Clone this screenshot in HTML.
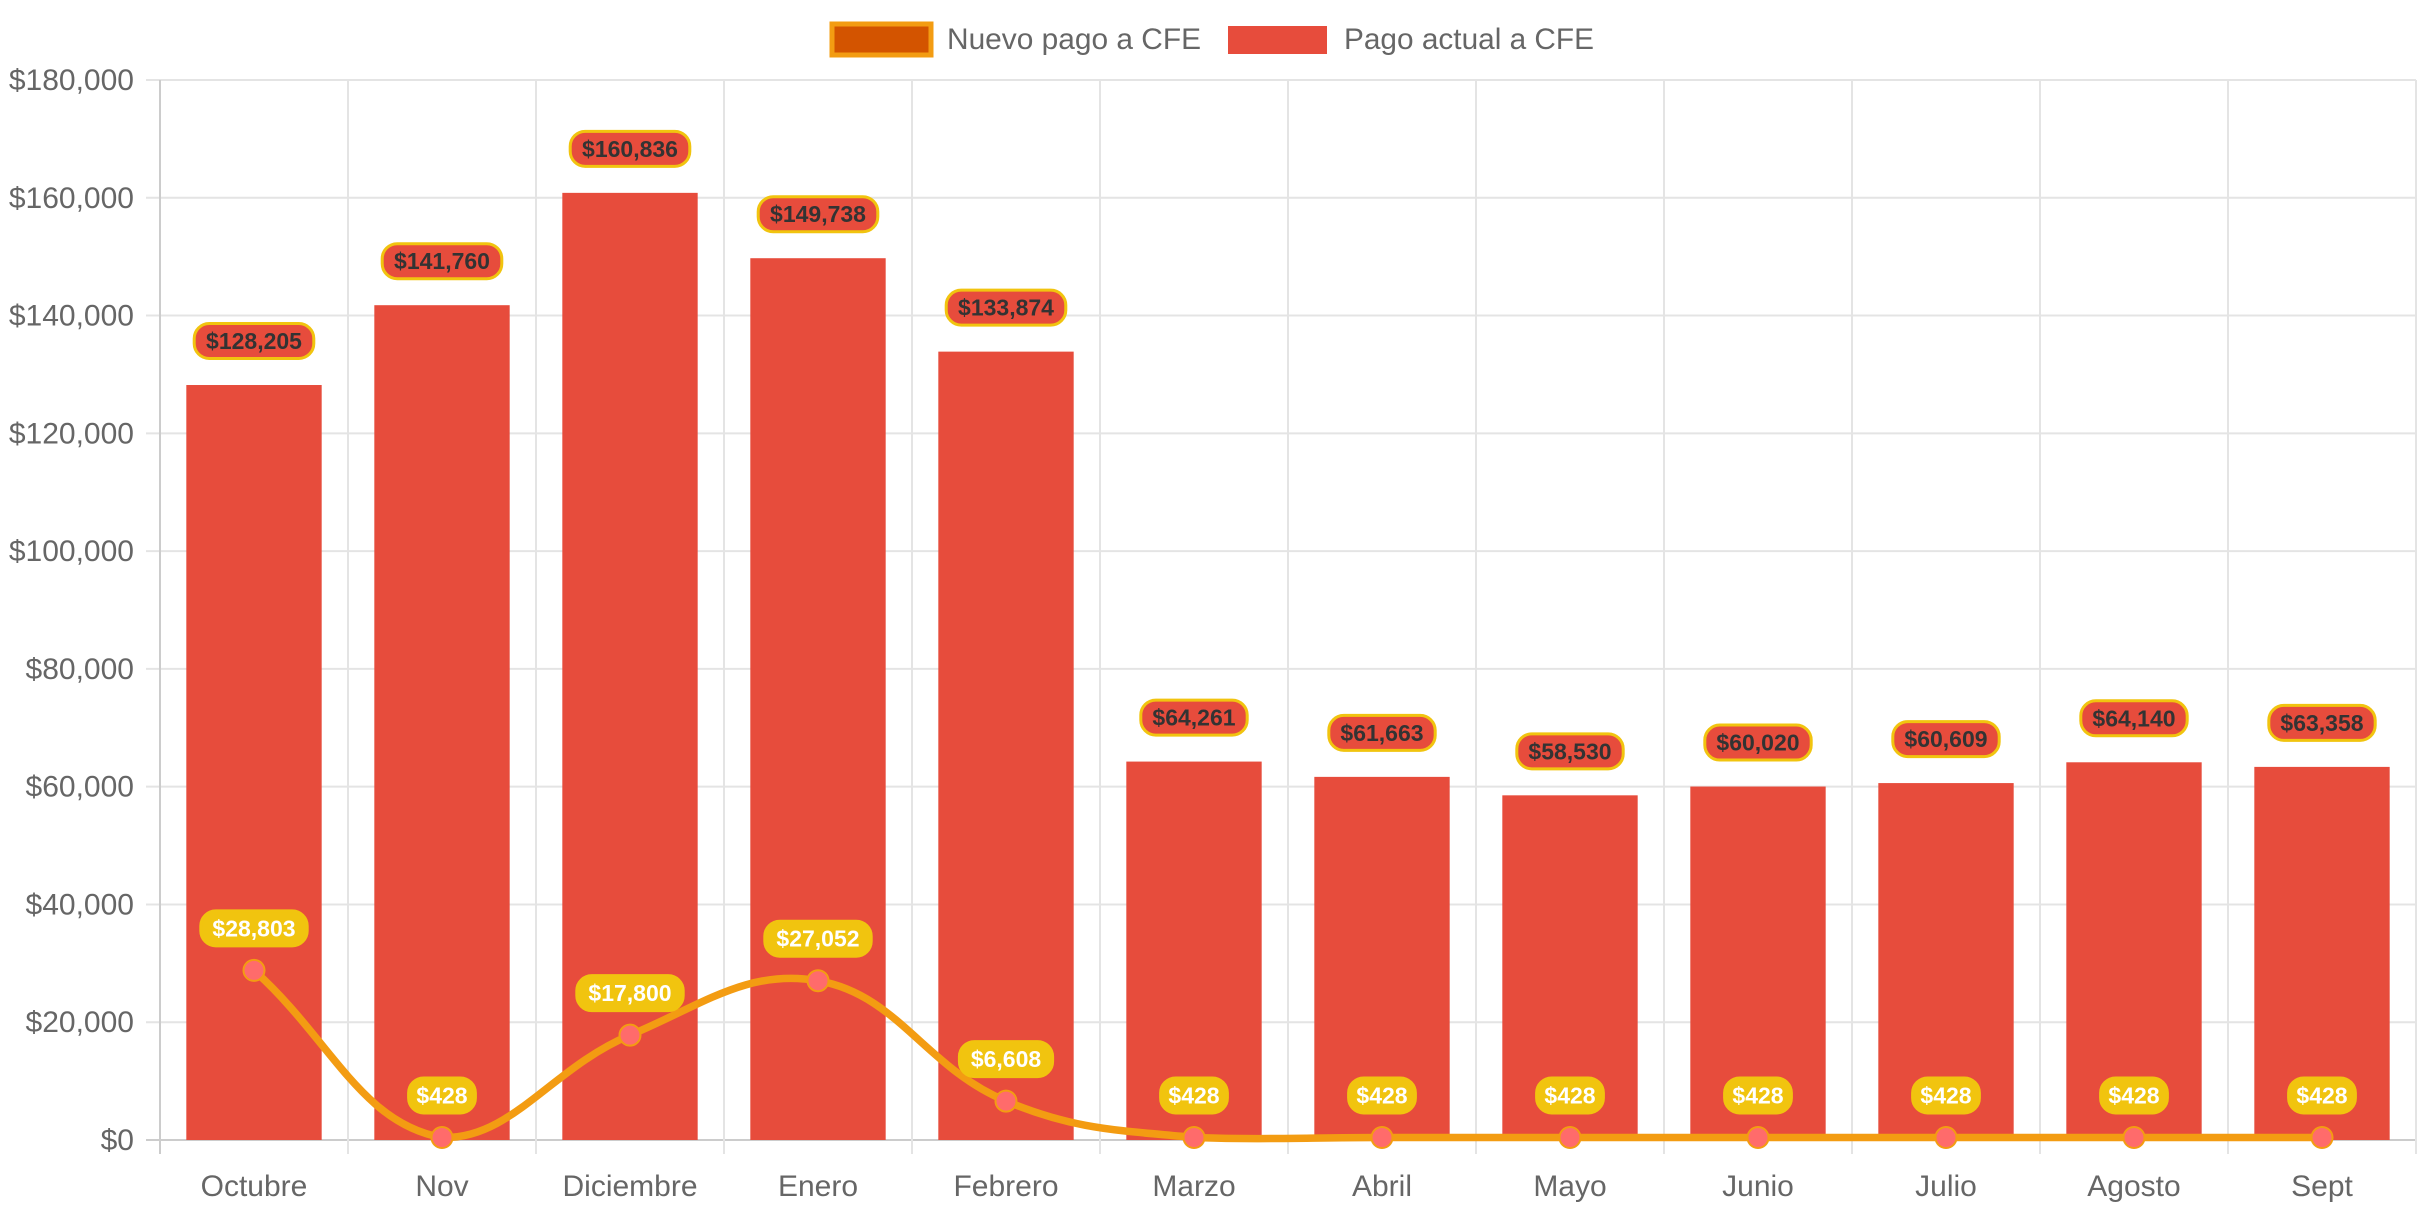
<!DOCTYPE html>
<html><head><meta charset="utf-8"><style>
body{margin:0;background:#fff;}
svg{display:block;font-family:"Liberation Sans",sans-serif;}
</style></head><body>
<svg id="chart" width="2427" height="1212" viewBox="0 0 2427 1212" xmlns="http://www.w3.org/2000/svg">
<g>
<rect x="832" y="24" width="99" height="31" fill="#d35400" stroke="#f39c12" stroke-width="5"/>
<text x="947" y="49" font-size="30" fill="#666" textLength="254" lengthAdjust="spacingAndGlyphs">Nuevo pago a CFE</text>
<rect x="1228" y="26" width="99" height="28" fill="#e74c3c"/>
<text x="1344" y="49" font-size="30" fill="#666" textLength="250" lengthAdjust="spacingAndGlyphs">Pago actual a CFE</text>
</g>
<g id="grid"></g><g id="bars"></g><g id="line"></g><g id="labels"></g>
</svg>
<script>
const categories=["Octubre","Nov","Diciembre","Enero","Febrero","Marzo","Abril","Mayo","Junio","Julio","Agosto","Sept"];
const actualValues=[128205,141760,160836,149738,133874,64261,61663,58530,60020,60609,64140,63358];
const nuevoValues=[28803,428,17800,27052,6608,428,428,428,428,428,428,428];
const yTicks=[0,20000,40000,60000,80000,100000,120000,140000,160000,180000];
const NS="http://www.w3.org/2000/svg";
const L=160,R=2416,T=80,B=1140,yMax=180000;
const cw=(R-L)/categories.length;
const xC=i=>L+cw*(i+0.5);
const yS=v=>B-(v/yMax)*(B-T);
const fmt=v=>"$"+v.toLocaleString("en-US");
function mk(tag,attrs,parent,txt){const e=document.createElementNS(NS,tag);for(const k in attrs)e.setAttribute(k,attrs[k]);if(txt!==undefined)e.textContent=txt;parent.appendChild(e);return e;}
const grid=document.getElementById("grid"),bars=document.getElementById("bars"),line=document.getElementById("line"),labels=document.getElementById("labels");
yTicks.forEach(t=>{
 const g=mk("line",{x1:L-14,x2:R,y1:yS(t),y2:yS(t),stroke:t===0?"#ccc":"#e4e4e4","stroke-width":2},grid);
 
 
 const tx=mk("text",{x:L-26,y:yS(t)+10,"font-size":30,fill:"#666","text-anchor":"end"},grid,fmt(t));
 
 
});
for(let i=0;i<=categories.length;i++){
 const x=L+cw*i;
 const g=mk("line",{x1:x,x2:x,y1:T,y2:B+14,stroke:i===0?"#ccc":"#e4e4e4","stroke-width":2},grid);
 
 
}
categories.forEach((c,i)=>{
 const tx=mk("text",{x:xC(i),y:1196,"font-size":30,fill:"#666","text-anchor":"middle"},grid,c);
 
 
});
const bw=cw*0.72;
function pill(cx,cy,text,bg,border,color,parent){
 const w=text.length*13.2+14,h=35;
 const r=mk("rect",{x:cx-w/2,y:cy-h/2,width:w,height:h,rx:15,fill:bg,stroke:border,"stroke-width":3},parent);
 
 
 const t=mk("text",{x:cx,y:cy+8,"font-size":23,"font-weight":"bold",fill:color,"text-anchor":"middle"},parent,text);
 
 
}
actualValues.forEach((v,i)=>{
 const b=mk("rect",{x:xC(i)-bw/2,y:yS(v),width:bw,height:B-yS(v),fill:"#e74c3c"},bars);
 
 
 pill(xC(i),yS(v)-44,fmt(v),"#e74c3c","#f1c40f","#333",labels);
});
const pts=nuevoValues.map((v,i)=>({x:xC(i),y:yS(v)}));
const t=0.4;let d="M"+pts[0].x+","+pts[0].y;
const cps=pts.map((p,i)=>{
 const prev=pts[i-1]||p,next=pts[i+1]||p;
 const d01=Math.hypot(p.x-prev.x,p.y-prev.y),d12=Math.hypot(next.x-p.x,next.y-p.y);
 let fa=d01/(d01+d12)||0,fb=d12/(d01+d12)||0;fa*=t;fb*=t;
 return {px:p.x-fa*(next.x-prev.x),py:p.y-fa*(next.y-prev.y),nx:p.x+fb*(next.x-prev.x),ny:p.y+fb*(next.y-prev.y)};
});
for(let i=1;i<pts.length;i++){
 let ny=Math.min(cps[i-1].ny,B),py=Math.min(cps[i].py,B);
 d+=` C${cps[i-1].nx},${ny} ${cps[i].px},${py} ${pts[i].x},${pts[i].y}`;
}
const path=mk("path",{d:d,fill:"none",stroke:"#f39c12","stroke-width":7.5},line);


pts.forEach((p,i)=>{
 const c=mk("circle",{cx:p.x,cy:p.y,r:10.5,fill:"#ff6b6b",stroke:"#f39c12","stroke-width":2},line);
 
 
 pill(p.x,p.y-42,fmt(nuevoValues[i]),"#f1c40f","#f1c40f","#fff",labels);
});
</script>
</body></html>
